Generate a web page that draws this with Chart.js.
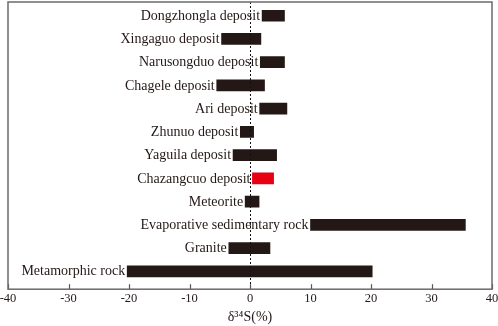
<!DOCTYPE html>
<html>
<head>
<meta charset="utf-8">
<script src="https://cdn.jsdelivr.net/npm/chart.js@4/dist/chart.umd.min.js"></script>
<style>
  html, body { margin: 0; padding: 0; background: #fff; }
  #wrap { width: 498px; height: 326px; }
</style>
</head>
<body>
<div id="wrap"><canvas id="chart"></canvas></div>
<script>
// δ34S ranges, top to bottom
const categories = [
  "Dongzhongla deposit", "Xingaguo deposit", "Narusongduo deposit", "Chagele deposit",
  "Ari deposit", "Zhunuo deposit", "Yaguila deposit", "Chazangcuo deposit",
  "Meteorite", "Evaporative sedimentary rock", "Granite", "Metamorphic rock"
];
const lowVals  = [2.0, -4.7, 1.7, -5.5, 1.6, -1.6, -2.8, 0.4, -0.8, 10.0, -3.5, -20.3];
const highVals = [5.7,  1.8, 5.7,  2.4, 6.1,  0.6,  4.4, 3.9,  1.5, 35.6,  3.3,  20.2];
const highlighted = "Chazangcuo deposit";
const xTickValues = [-40, -30, -20, -10, 0, 10, 20, 30, 40];

const INK = "#231815";

const decorPlugin = {
  id: "decor",
  afterDatasetsDraw(chart) {
    const {ctx, chartArea: a} = chart;
    const xs = chart.scales.x;
    ctx.save();
    // dotted zero line
    const x0 = Math.round(xs.getPixelForValue(0)) + 0.5;
    ctx.strokeStyle = "#111";
    ctx.lineWidth = 1;
    ctx.setLineDash([2, 2]);
    ctx.beginPath();
    ctx.moveTo(x0, a.top);
    ctx.lineTo(x0, a.bottom);
    ctx.stroke();
    ctx.setLineDash([]);
    // inward tick marks on bottom axis
    ctx.strokeStyle = "#555";
    ctx.lineWidth = 1.2;
    xTickValues.forEach(v => {
      const px = Math.round(xs.getPixelForValue(v)) + 0.5;
      ctx.beginPath();
      ctx.moveTo(px, a.bottom);
      ctx.lineTo(px, a.bottom - 5);
      ctx.stroke();
    });
    // frame
    ctx.strokeStyle = "#6b6b6b";
    ctx.lineWidth = 1.5;
    ctx.strokeRect(a.left, a.top, a.right - a.left, a.bottom - a.top);
    // category labels to the left of each bar
    ctx.fillStyle = INK;
    ctx.font = "14px 'Liberation Serif', serif";
    ctx.textAlign = "right";
    ctx.textBaseline = "middle";
    chart.getDatasetMeta(0).data.forEach((el, i) => {
      const left = Math.min(el.x, el.base);
      ctx.fillText(categories[i], left - 2, el.y + 0.5);
    });
    ctx.restore();
  }
};

new Chart(document.getElementById("chart"), {
  type: "bar",
  data: {
    datasets: [{
      data: categories.map((c, i) => ({ y: i, x: [lowVals[i], highVals[i]] })),
      backgroundColor: categories.map(c => c === highlighted ? "#e60012" : INK),
      borderWidth: 0,
      barThickness: 11
    }]
  },
  options: {
    indexAxis: "y",
    responsive: true,
    maintainAspectRatio: false,
    animation: false,
    layout: { padding: { left: 0, right: 0, top: 2, bottom: 0 } },
    scales: {
      y: {
        type: "linear",
        display: false,
        offset: false,
        reverse: true,
        min: -0.59,
        max: 11.77
      },
      x: {
        type: "linear",
        min: -40,
        max: 40,
        grid: { display: false, drawTicks: false },
        border: { display: false },
        afterFit(scale) {
          scale.paddingLeft = 8;
          scale.paddingRight = 6;
        },
        ticks: {
          stepSize: 10,
          color: INK,
          padding: 2,
          font: { family: "'Liberation Serif', serif", size: 12.5 }
        },
        title: {
          display: true,
          text: "δ³⁴S(%)",
          color: INK,
          padding: { top: 1, bottom: 0 },
          font: { family: "'Liberation Serif', serif", size: 14 }
        }
      }
    },
    plugins: {
      legend: { display: false },
      tooltip: { enabled: false }
    }
  },
  plugins: [decorPlugin]
});
</script>
</body>
</html>
